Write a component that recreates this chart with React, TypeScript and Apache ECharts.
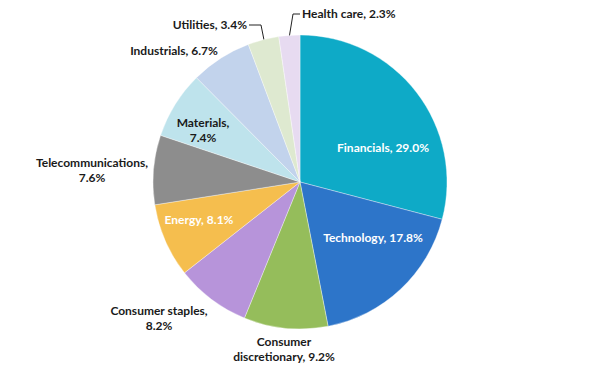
import React, { useEffect, useRef } from "react";
import * as echarts from "echarts";

const sectors = [
  "Financials",
  "Technology",
  "Consumer discretionary",
  "Consumer staples",
  "Energy",
  "Telecommunications",
  "Materials",
  "Industrials",
  "Utilities",
  "Health care",
];
const weights = [29.0, 17.8, 9.2, 8.2, 8.1, 7.6, 7.4, 6.7, 3.4, 2.3];

const colors = [
  "#0EAAC7",
  "#2D75C9",
  "#95BD5B",
  "#B794DA",
  "#F5BE4E",
  "#8D8D8D",
  "#BEE3EC",
  "#C2D3EC",
  "#DEE9D0",
  "#E7DBF1",
];

// label layout (styling): text, anchor position, align, colour, leader line
const labelText = [
  "Financials, 29.0%",
  "Technology, 17.8%",
  "Consumer\ndiscretionary, 9.2%",
  "Consumer staples,\n8.2%",
  "Energy, 8.1%",
  "Telecommunications,\n7.6%",
  "Materials,\n7.4%",
  "Industrials, 6.7%",
  "Utilities, 3.4%",
  "Health care, 2.3%",
];
const labelPos: [number, number, string][] = [
  [383, 147, "center"],
  [373, 237, "center"],
  [284, 348.5, "center"],
  [159, 318, "center"],
  [199, 219, "center"],
  [92, 170, "center"],
  [203, 129.5, "center"],
  [174, 50, "center"],
  [247, 24, "right"],
  [302, 13, "left"],
];
const labelColor = ["#fff", "#fff", "#1a1a1a", "#1a1a1a", "#fff", "#1a1a1a", "#1a1a1a", "#1a1a1a", "#1a1a1a", "#1a1a1a"];
const leaderLines: Record<number, number[][]> = {
  8: [[264, 40], [261, 25], [249, 25]],
  9: [[289.4, 36], [293, 14], [300, 14]],
};

export default function App() {
  const ref = useRef<HTMLDivElement>(null);
  useEffect(() => {
    if (!ref.current) return;
    const chart = echarts.init(ref.current, undefined, { renderer: "svg" });
    chart.setOption({
      animation: false,
      backgroundColor: "#fff",
      series: [
        {
          type: "pie",
          center: [300, 182],
          radius: [0, 147],
          startAngle: 90,
          clockwise: true,
          avoidLabelOverlap: false,
          itemStyle: { borderColor: "rgba(255,255,255,0.6)", borderWidth: 0.6 },
          label: {
            show: true,
            fontFamily: "Lato",
            fontWeight: "bold",
            fontSize: 12,
            lineHeight: 15,
            align: "center",
          },
          labelLine: { show: false, lineStyle: { color: "#222", width: 1 } },
          labelLayout: (p: any) => {
            const i = p.dataIndex;
            const [x, y, align] = labelPos[i];
            const res: any = { x, y, align, verticalAlign: "middle" };
            if (leaderLines[i]) res.labelLinePoints = leaderLines[i];
            return res;
          },
          data: sectors.map((name, i) => ({
            name,
            value: weights[i],
            itemStyle: { color: colors[i] },
            label: {
              formatter: labelText[i],
              color: labelColor[i],
              align: labelPos[i][2],
            },
            labelLine: { show: !!leaderLines[i], length: 5, length2: 5 },
          })),
        },
      ],
    });
    return () => chart.dispose();
  }, []);
  return (
    <div
      ref={ref}
      style={{ position: "fixed", left: 0, top: 0, width: 600, height: 366 }}
    />
  );
}
